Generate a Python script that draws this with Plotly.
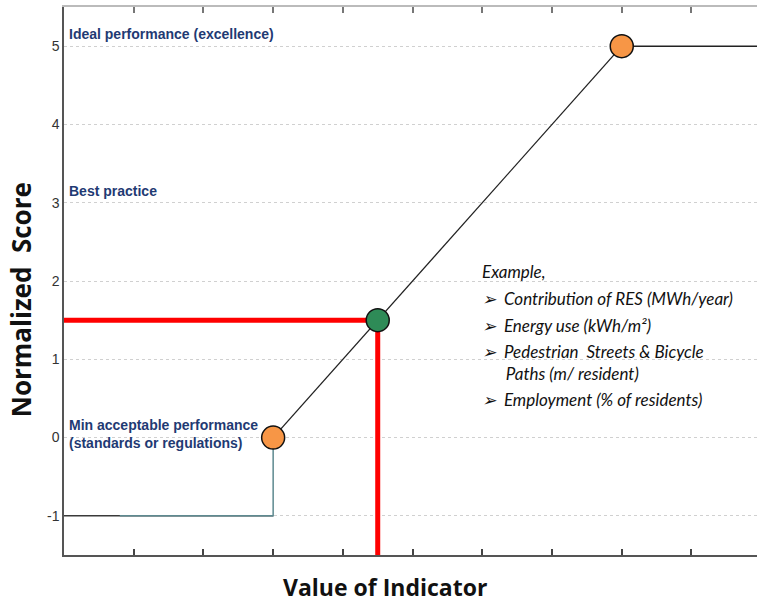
import plotly.graph_objects as go

# Data
step_x = [0, 3, 3]
step_y = [-1, -1, 0]
ramp_x = [3, 8]
ramp_y = [0, 5]
plateau_x = [8, 10]
plateau_y = [5, 5]
anchor_x = [3, 8]
anchor_y = [0, 5]
example_x = [4.5]
example_y = [1.5]
x_ticks = [1, 2, 3, 4, 5, 6, 7, 8, 9]
y_ticks = [-1, 0, 1, 2, 3, 4, 5]
y_tick_labels = ["-1", "0", "1", "2", "3", "4", "5"]
level_labels = ["Ideal performance (excellence)", "Best practice",
                "Min acceptable performance<br>(standards or regulations)"]
level_values = [5, 3, 0]
example_lines = ["Example,", "➢  Contribution of RES (MWh/year)", "➢  Energy use (kWh/m²)",
                 "➢  Pedestrian  Streets & Bicycle", "      Paths (m/ resident)",
                 "➢  Employment (% of residents)"]
example_levels = [2.12, 1.78, 1.43, 1.10, 0.82, 0.49]

fig = go.Figure()
fig.add_trace(go.Scatter(x=step_x[:2], y=step_y[:2], mode="lines",
                         line=dict(color="#3a3a3a", width=1.5), showlegend=False))
fig.add_trace(go.Scatter(x=[0.8, 3, 3], y=step_y, mode="lines",
                         line=dict(color="#5e8a90", width=1.5), showlegend=False))
fig.add_trace(go.Scatter(x=ramp_x, y=ramp_y, mode="lines",
                         line=dict(color="#222222", width=1.3), showlegend=False))
fig.add_trace(go.Scatter(x=plateau_x, y=plateau_y, mode="lines",
                         line=dict(color="#222222", width=1.5), showlegend=False))
fig.add_trace(go.Scatter(x=[0, example_x[0], example_x[0]], y=[example_y[0], example_y[0], -1.5],
                         mode="lines", line=dict(color="#ff0000", width=5), showlegend=False))
fig.add_trace(go.Scatter(x=anchor_x, y=anchor_y, mode="markers",
                         marker=dict(size=23, color="#f79646", line=dict(color="#111", width=1.5)),
                         showlegend=False))
fig.add_trace(go.Scatter(x=example_x, y=example_y, mode="markers",
                         marker=dict(size=23, color="#2e8b57", line=dict(color="#111", width=1.5)),
                         showlegend=False))
fig.add_trace(go.Scatter(x=[0], y=[0], xaxis="x2", mode="markers",
                         marker=dict(opacity=0), showlegend=False, hoverinfo="skip"))

for txt, v in zip(level_labels, level_values):
    fig.add_annotation(x=0.05, y=v, text=txt, xref="x", yref="y", showarrow=False,
                       xanchor="left", yanchor="bottom" if v != 0 else "middle",
                       yshift=2 if v != 0 else 4, align="left",
                       font=dict(family="Liberation Sans Narrow, Arial Narrow, sans-serif",
                                 size=14, color="#1f3a73", weight="bold"))

for txt, v in zip(example_lines, example_levels):
    fig.add_annotation(x=5.97, y=v, text=txt, xref="x", yref="y", showarrow=False,
                       xanchor="left", yanchor="middle",
                       font=dict(family="Lato, Open Sans, sans-serif", size=17,
                                 color="#111", style="italic"))

# axis titles
fig.add_annotation(x=0.463, y=-0.058, xref="paper", yref="paper", text="<b>Value of Indicator</b>",
                   showarrow=False, xanchor="center", yanchor="middle", borderpad=0,
                   font=dict(family="Open Sans, sans-serif", size=23, color="#111"))
fig.add_annotation(x=-0.062, y=0.465, xref="paper", yref="paper", text="<b>Normalized  Score</b>",
                   showarrow=False, textangle=-90, xanchor="center", yanchor="middle",
                   font=dict(family="Open Sans, sans-serif", size=26, color="#111"))

fig.update_layout(
    width=757, height=603,
    margin=dict(l=64, r=0, t=7, b=48, autoexpand=False),
    plot_bgcolor="white", paper_bgcolor="white",
    xaxis=dict(range=[0, 9.94], tickvals=x_ticks, ticktext=[""] * len(x_ticks),
               ticks="inside", ticklen=6, tickcolor="#444", tickwidth=1.5,
               showline=True, linecolor="#555", linewidth=1.5, showgrid=False,
               zeroline=False, automargin=False),
    xaxis2=dict(range=[0, 9.94], overlaying="x", side="top", tickvals=x_ticks,
                ticktext=[""] * len(x_ticks), ticks="inside", ticklen=6, tickcolor="#777",
                tickwidth=1.5, showline=True, linecolor="#bbbbbb", linewidth=1.5,
                showgrid=False, zeroline=False, automargin=False),
    yaxis=dict(range=[-1.5, 5.5], tickvals=y_ticks, ticktext=y_tick_labels, ticks="",
               showline=True, automargin=False,
               linecolor="#555", linewidth=1.5, showgrid=True, gridcolor="#d0d0d0",
               griddash="dot", gridwidth=1, zeroline=False,
               tickfont=dict(family="Liberation Sans, Arial, sans-serif", size=14, color="#333")),
)

fig.write_html("out.html", config={"displayModeBar": False},
               post_script="document.body.style.margin='0';document.body.style.overflow='hidden';")
